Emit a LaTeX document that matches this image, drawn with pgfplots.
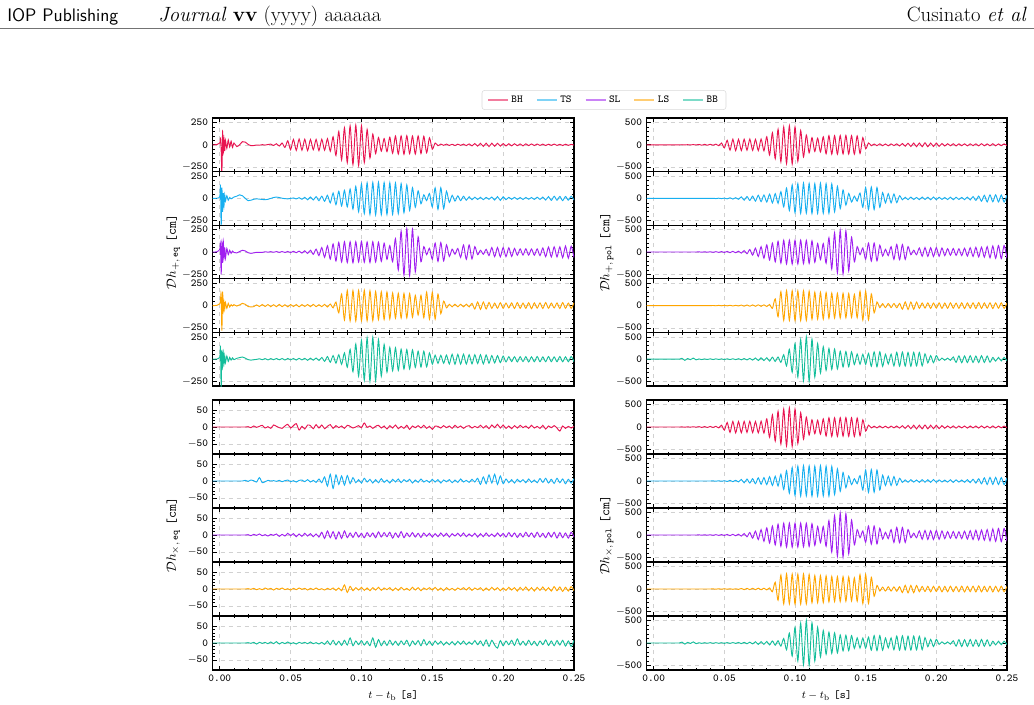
\documentclass[border=0pt]{standalone}
\usepackage{pgfplots}
\pgfplotsset{compat=1.18}
\usepackage{pgfplotstable}
\definecolor{bh}{RGB}{232,20,80}
\definecolor{ts}{RGB}{22,175,240}
\definecolor{sl}{RGB}{160,30,240}
\definecolor{ls}{RGB}{255,165,0}
\definecolor{bb}{RGB}{20,190,155}

\pgfplotstableread{
t a1 a2 a3 a4 a5 b1 b2 b3 b4 b5 c1 c2 c3 c4 c5
-0.005 0 0 0 0 0 0 0 0 0 0 0 0 0 0 0
-0.002 3 2 2 3 2 0 0 0 0 0 0 0 0 0 0
0.0000 20 20 30 20 25 0 0 0 0 0 0 0 0 0 0
0.0005 70 150 90 60 140 0 0 0 0 0 0 0 0 0 0
0.0010 -60 -320 -250 130 -320 0 0 0 0 0 0 0 0 0 0
0.0015 -320 120 100 -280 90 0 0 0 0 0 0 0 0 0 0
0.0020 150 -150 -120 150 -80 0 0 0 0 0 0 0 0 0 0
0.0025 -90 60 120 -60 70 0 0 0 0 0 0 0 0 0 0
0.0030 60 -80 -60 40 -50 0 0 0 0 0 0 0 0 0 0
0.0035 -70 40 50 -40 40 0 0 0 0 0 0 0 0 0 0
0.0040 50 -30 -70 35 -40 0 0 0 0 0 0 0 0 0 0
0.0050 -40 30 40 -30 35 0 0 0 0 0 0 0 0 0 0
0.0060 55 -20 -30 25 -25 0 0 0 0 0 0 0 0 0 0
0.0070 -25 10 20 -15 20 0 0 0 0 0 0 0 0 0 0
0.0080 40 -5 -15 10 -10 0 0 0 0 0 0 0 0 0 0
0.0090 -30 5 10 -5 15 0 0 0 0 0 0 0 0 0 0
0.0100 20 15 -5 10 -5 0 0 0 0 0 0 0 0 0 0
0.012 -20 25 -10 -5 10 0 0 0 0 0 0 0 0 0 0
0.014 0 40 5 8 18 0 0 0 0 0 0 0 0 0 0
0.016 35 30 20 25 25 0 0 0 0 0 0 0 0 0 0
0.018 30 0 12 15 12 0 0 0 0 0 0 2 0 0 0
0.020 5 -25 -8 -10 -5 2 0 0 0 20 1 -1 1 1 1
0.022 -10 -20 -15 -15 -10 -3 0 0 0 -25 -2 3 -2 -1 -1
0.024 -8 -10 -10 -12 -6 3 0 0 0 15 3 1 2 2 2
0.026 -2 -5 -3 8 -2 -2 0 0 0 -10 -1 -3 -1 -2 -3
0.028 -5 -8 -5 -10 5 4 0 0 0 25 2 10 3 1 2
0.030 2 -12 -4 12 -6 -3 0 0 0 -15 5 -5 -2 -2 -1
0.032 -3 -15 3 -10 7 8 0 3 0 6 -3 -2 1 3 2
0.034 3 -10 -2 12 -8 -9 0 -4 0 -8 1 2 -3 -1 -2
0.036 8 0 4 -12 7 10 0 5 0 7 -4 0 2 2 3
0.038 -8 10 -3 10 -6 -10 0 -5 0 -6 6 1 -1 -3 -2
0.040 12 15 5 -12 8 12 0 6 0 8 2 -1 3 2 4
0.042 -14 10 -4 14 -7 -10 3 -7 3 -7 -2 2 -4 -1 -3
0.044 20 2 5 -12 8 15 -4 8 -4 8 -4 -2 2 3 2
0.046 -30 -3 -5 10 -9 -20 5 -8 5 -6 3 1 -3 -2 -2
0.048 45 -5 6 -14 8 40 -5 9 -4 7 8 3 5 1 3
0.050 -55 0 -7 12 -7 -70 6 -10 6 -8 -3 -2 -2 -3 -2
0.052 60 5 8 -10 8 100 -10 12 -5 9 4 1 4 2 1
0.054 -62 -6 -8 12 -9 -120 14 -14 6 -8 10 -3 -5 -2 -3
0.056 65 8 10 -14 10 125 -15 15 -7 10 -9 2 3 3 2
0.058 -60 -10 -12 12 -8 -130 16 -16 6 -9 2 3 -4 -1 -1
0.060 62 12 14 -10 10 122 -20 18 -8 12 -6 -2 5 2 2
0.062 -65 -15 -16 12 -12 -128 35 -25 12 -14 6 4 -3 -3 -2
0.064 60 16 20 -12 12 125 -40 32 -14 15 4 -3 4 2 3
0.066 -55 -18 -26 14 -11 -120 42 -40 15 -16 -5 2 -5 -2 -2
0.068 60 20 32 -12 13 128 -45 55 -14 18 7 -4 3 3 1
0.070 -65 -25 -40 10 -14 -125 50 -70 16 -20 -3 6 -6 -2 -3
0.072 62 25 50 -12 20 122 -60 85 -15 28 6 -5 8 1 2
0.074 -60 -32 -60 14 -24 -130 70 -100 18 -30 -5 12 -10 -3 -4
0.076 68 35 70 -16 30 128 -72 120 -16 32 2 -15 12 2 6
0.078 -72 -50 -80 18 -34 -135 75 -140 18 -30 7 20 -8 -2 -5
0.080 90 60 90 -25 40 180 -80 160 -20 35 -4 -22 10 3 8
0.082 -120 -70 -100 40 -44 -230 95 -180 25 -42 4 18 -12 -4 -6
0.084 150 80 108 -80 50 270 -100 200 -60 45 -2 -10 9 3 5
0.086 -170 -85 -112 130 -58 -310 105 -220 150 -48 3 15 -10 -5 -7
0.088 190 90 115 -160 70 350 -110 240 -250 50 -4 -12 12 12 8
0.090 -200 -95 -118 170 -90 -380 150 -250 310 -70 5 16 -8 -10 -6
0.092 212 105 115 -172 110 400 -190 262 -330 100 2 -8 6 8 15
0.094 -222 -120 -120 168 -140 -420 230 -268 335 -150 -3 10 -7 -5 -8
0.096 220 135 116 -172 170 425 -270 265 -330 220 0 -5 8 4 6
0.098 -232 -150 -112 170 -190 -430 300 -270 332 -290 4 4 -6 -3 -5
0.100 212 162 118 -168 210 400 -320 262 -335 350 -2 -6 5 5 7
0.102 -198 -170 -115 172 -235 -370 330 -268 330 -400 12 8 -8 -4 -6
0.104 172 175 112 -170 240 320 -335 265 -335 440 -1 -3 7 3 5
0.106 -148 -180 -118 166 -248 -270 340 -260 332 -480 3 5 -5 -5 -8
0.108 120 178 115 -168 245 220 -330 262 -330 500 -4 -6 6 4 15
0.110 -98 -185 -112 158 -240 -180 335 -255 325 -495 2 4 -8 -3 -12
0.112 82 180 110 -156 220 160 -338 250 -305 450 5 -5 9 5 10
0.114 -72 -182 -105 155 -190 -150 330 -230 300 -400 -3 7 -6 -4 -8
0.116 70 178 98 -154 165 150 -335 190 -302 350 3 -4 7 3 6
0.118 -76 -180 -82 152 -145 -160 340 -170 298 -310 -6 3 -5 -2 -7
0.120 85 176 72 -150 132 180 -332 190 -300 280 4 -6 8 4 8
0.122 -95 -178 -110 142 -130 -200 330 -250 292 -250 -3 5 -9 -5 -6
0.124 98 172 150 -140 128 205 -335 320 -285 240 6 -3 6 3 5
0.126 -104 -170 -200 138 -125 -210 325 -380 280 -230 -5 6 -7 -4 -7
0.128 100 165 235 -140 112 205 -300 430 -278 225 2 -5 10 5 6
0.130 -106 -160 -258 136 -110 -210 270 -470 275 -220 -4 4 -8 -3 -5
0.132 102 150 262 -138 108 208 -230 485 -280 180 5 -2 6 2 8
0.134 -100 -135 -265 135 -110 -205 190 -490 276 -175 -7 5 -5 -4 -9
0.136 98 120 255 -130 105 210 -150 475 -272 172 3 -6 7 5 6
0.138 -104 -100 -222 115 -92 -208 110 -420 270 -170 -2 3 -6 -3 -5
0.140 100 85 170 -105 90 205 -80 330 -265 165 4 -4 5 4 7
0.142 -98 -60 -110 115 -88 -210 50 -220 250 -120 -3 6 -7 -5 -8
0.144 95 40 60 -135 90 200 -60 120 -272 115 5 -3 6 3 10
0.146 -90 -25 -30 150 -86 -195 120 -60 320 -112 -4 2 -4 -2 -6
0.148 78 55 42 -152 70 160 -200 90 -325 110 2 -4 5 4 5
0.150 -50 -95 -80 148 -55 -90 245 -160 322 -115 -7 5 -6 -3 -7
0.152 20 118 100 -150 45 40 -250 200 -318 130 3 -3 4 5 6
0.154 -10 -122 -105 128 -46 -20 255 -205 260 -160 2 4 -5 -4 -4
0.156 8 120 106 -90 44 18 -250 200 -160 165 -3 -6 6 3 5
0.158 -6 -115 -100 50 -45 -20 245 -198 80 -168 4 3 -4 -5 -6
0.160 8 80 80 -25 46 22 -200 150 -45 165 -2 -2 5 4 3
0.162 -7 -45 -50 15 -54 -20 130 -90 42 -160 3 4 -6 -3 -5
0.164 6 35 32 -14 55 18 -100 60 -45 110 -4 -5 4 2 4
0.166 -8 -30 -25 16 -56 -22 105 -80 48 -108 5 3 -3 -4 -6
0.168 7 28 40 -14 54 20 -100 120 -44 112 -2 -4 5 3 5
0.170 -6 -25 -60 15 -55 -18 98 -165 46 -150 3 6 -4 -2 -4
0.172 8 24 78 -14 56 22 -95 170 -48 155 -4 -3 6 4 6
0.174 -9 -20 -82 16 -54 -25 60 -172 50 -158 2 2 -5 -3 -5
0.176 10 18 80 -15 50 28 -30 168 -80 160 4 -4 3 5 3
0.178 -12 -15 -78 25 -52 -30 25 -165 82 -155 -3 5 -4 -4 -4
0.180 14 14 60 -38 50 35 -28 120 -85 152 2 -3 5 3 7
0.182 -15 -12 -30 40 -48 -38 30 -60 80 -158 -2 8 -6 -2 -5
0.184 16 12 20 -42 50 40 -25 40 -82 155 5 -10 4 4 6
0.186 -18 -14 -25 40 -52 -42 22 -60 78 -150 -3 12 -5 -5 -8
0.188 18 12 30 -38 48 40 -28 90 -60 152 4 -8 6 3 9
0.190 -20 -10 -40 35 -45 -42 30 -95 58 -148 -5 18 -4 -4 -10
0.192 18 15 50 -30 40 45 -25 100 -55 120 6 -6 3 5 8
0.194 -16 -18 -52 28 -42 -42 28 -98 60 -82 -2 20 -5 -3 -6
0.196 18 20 50 -30 40 40 -30 96 -62 80 8 -10 6 4 -15
0.198 -15 -22 -54 32 -38 -38 32 -100 58 -78 -3 15 -4 -5 7
0.200 14 18 50 -30 35 40 -28 98 -55 80 6 -8 5 3 -8
0.202 -13 -14 -52 28 -30 -35 25 -95 60 -30 -4 6 -6 -4 6
0.204 12 12 48 -26 28 30 -22 90 -62 25 3 -5 7 5 -5
0.206 -12 -10 -50 30 -26 -26 20 -80 58 -22 -5 4 -5 -3 8
0.208 12 12 40 -32 28 24 -25 75 -60 24 4 -6 6 4 -7
0.210 -10 -11 -36 34 -30 -22 28 -72 62 -25 -3 5 -7 -6 12
0.212 10 10 35 -30 28 24 -30 78 -58 50 5 -3 5 5 -6
0.214 -12 -12 -34 28 -26 -25 26 -75 55 -70 -2 4 -6 -4 5
0.216 11 11 36 -30 28 22 -24 72 -60 75 3 -5 8 6 -7
0.218 -9 -9 -35 32 -30 -20 22 -80 62 -78 -4 6 -5 -5 8
0.220 10 10 34 -34 26 22 -28 85 -65 72 5 -4 6 4 -6
0.222 -8 -12 -36 30 -28 -24 30 -90 60 -75 -3 3 -7 -6 5
0.224 9 14 35 -28 30 22 -35 95 -58 78 2 -5 8 5 -8
0.226 -7 -12 -40 30 -28 -20 40 -100 62 -72 -4 7 -6 -4 6
0.228 8 15 45 -32 26 22 -45 105 -65 70 5 -4 5 6 -5
0.230 -8 -18 -52 34 -28 -24 50 -110 68 -75 -6 8 -8 -5 9
0.232 7 20 55 -30 30 25 -62 108 -62 78 3 -6 7 4 -7
0.234 -6 -22 -56 28 -28 -22 70 -115 60 -72 -2 5 -6 -6 6
0.236 8 24 58 -26 26 20 -78 120 -58 70 4 -7 8 7 -8
0.238 -7 -20 -55 30 -28 -22 80 -130 62 -68 -3 8 -9 -5 7
0.240 6 22 58 -32 30 24 -75 135 -65 40 -12 -5 7 6 -6
0.242 -8 -25 -64 34 -28 -22 80 -140 60 -42 3 6 -8 -7 8
0.244 7 22 66 -30 26 20 -78 145 -58 40 -4 -8 6 5 -9
0.246 -6 -20 -68 28 -28 -18 75 -148 62 -38 2 5 -9 -6 6
0.248 5 24 65 -30 30 20 -80 145 -60 40 -3 -6 8 7 -10
0.250 -4 -18 -62 32 -28 -18 70 -140 58 -38 2 7 -6 -5 8
}\wdata

\pgfplotsset{
  panelbase/.style={
    scale only axis,
    xmin=-0.005, xmax=0.25,
    xtick={0,0.05,0.1,0.15,0.2,0.25},
    minor x tick num=4,
    minor y tick num=4,
    tick align=inside,
    major tick length=3pt, minor tick length=1.6pt,
    tick style={black, line width=0.5pt},
    axis line style={line width=0.9pt},
    grid=major,
    major grid style={dashed, black!18, line width=0.4pt},
    xticklabels={},
    tick label style={font=\ttfamily\fontsize{8}{9}\selectfont},
    every axis plot/.append style={line width=0.7pt, smooth, tension=0.45},
    label style={font=\fontsize{8.5}{10}\selectfont},
  },
  lcol/.style={panelbase, width=271pt,
    every axis y label/.style={at={(axis description cs:-0.109,0.5)}, rotate=90, anchor=center}},
  rcol/.style={panelbase, width=270.2pt,
    every axis y label/.style={at={(axis description cs:-0.111,0.5)}, rotate=90, anchor=center}},
  topblk/.style={height=40.2pt},
  botblk/.style={height=40.5pt},
  ya/.style={ymin=-300, ymax=300, ytick={-250,0,250}, yticklabels={$-$250,0,250}},
  yb/.style={ymin=-600, ymax=600, ytick={-500,0,500}, yticklabels={$-$500,0,500}},
  yc/.style={ymin=-80, ymax=80, ytick={-50,0,50}, yticklabels={$-$50,0,50}},
  xlab/.style={xticklabels={0.00,0.05,0.10,0.15,0.20,0.25},
    xlabel={$t-t_{\mathrm{b}}$\ \texttt{[s]}}},
}

\newcommand{\pan}[5]{%
  \begin{axis}[#1, at={(#2,#3)}, anchor=north west]
    \addplot[#4] table[x=t,y=#5]{\wdata};
  \end{axis}}

\begin{document}
\begin{tikzpicture}
\path[use as bounding box] (0pt,0pt) rectangle (775.5pt,-528pt);
% header
\node[anchor=base west, inner sep=0pt] at (5.25pt,-15.75pt) {\fontsize{13.6}{16}\selectfont\sffamily IOP Publishing};
\node[anchor=base west, inner sep=0pt] at (118.5pt,-15.75pt) {\fontsize{15.5}{18}\selectfont\textit{Journal} \textbf{vv} (yyyy) aaaaaa};
\node[anchor=base east, inner sep=0pt] at (770.25pt,-15.75pt) {\fontsize{15.5}{18}\selectfont Cusinato \textit{et al}};
\draw[black!55, line width=0.5pt] (0pt,-21pt) -- (775.5pt,-21pt);

% top-left block (h+ eq)
\begin{axis}[lcol, topblk, ya, at={(159.5pt,-88.5pt)}, anchor=north west,
  legend columns=5,
  legend style={at={(axis description cs:1.083,1.336)}, anchor=center,
    draw=black!15, rounded corners=2pt, fill=white,
    font=\ttfamily\fontsize{8}{9}\selectfont,
    /tikz/every even column/.append style={column sep=8pt},
    inner xsep=4pt, inner ysep=2pt},
  legend image code/.code={\draw[#1, line width=1.1pt, opacity=0.55] (0pt,0pt) -- (15pt,0pt);}]
  \addplot[bh, forget plot] table[x=t,y=a1]{\wdata};
  \addlegendimage{bh}
  \addlegendimage{ts}
  \addlegendimage{sl}
  \addlegendimage{ls}
  \addlegendimage{bb}
  \legend{BH,TS,SL,LS,BB}
\end{axis}
\pan{lcol,topblk,ya}{159.5pt}{-128.7pt}{ts}{a2}
\pan{lcol,topblk,ya,ylabel={$\mathcal{D}h_{+,\,\mathtt{eq}}$\ \texttt{[cm]}}}{159.5pt}{-168.9pt}{sl}{a3}
\pan{lcol,topblk,ya}{159.5pt}{-209.1pt}{ls}{a4}
\pan{lcol,topblk,ya}{159.5pt}{-249.3pt}{bb}{a5}

% top-right block (h+ pol)
\pan{rcol,topblk,yb}{485pt}{-88.5pt}{bh}{b1}
\pan{rcol,topblk,yb}{485pt}{-128.7pt}{ts}{b2}
\pan{rcol,topblk,yb,ylabel={$\mathcal{D}h_{+,\,\mathtt{pol}}$\ \texttt{[cm]}}}{485pt}{-168.9pt}{sl}{b3}
\pan{rcol,topblk,yb}{485pt}{-209.1pt}{ls}{b4}
\pan{rcol,topblk,yb}{485pt}{-249.3pt}{bb}{b5}

% bottom-left block (hx eq)
\pan{lcol,botblk,yc}{159.5pt}{-300pt}{bh}{c1}
\pan{lcol,botblk,yc}{159.5pt}{-340.5pt}{ts}{c2}
\pan{lcol,botblk,yc,ylabel={$\mathcal{D}h_{\times,\,\mathtt{eq}}$\ \texttt{[cm]}}}{159.5pt}{-381pt}{sl}{c3}
\pan{lcol,botblk,yc}{159.5pt}{-421.5pt}{ls}{c4}
\pan{lcol,botblk,yc,xlab}{159.5pt}{-462pt}{bb}{c5}

% bottom-right block (hx pol)
\pan{rcol,botblk,yb}{485pt}{-300pt}{bh}{b1}
\pan{rcol,botblk,yb}{485pt}{-340.5pt}{ts}{b2}
\pan{rcol,botblk,yb,ylabel={$\mathcal{D}h_{\times,\,\mathtt{pol}}$\ \texttt{[cm]}}}{485pt}{-381pt}{sl}{b3}
\pan{rcol,botblk,yb}{485pt}{-421.5pt}{ls}{b4}
\pan{rcol,botblk,yb,xlab}{485pt}{-462pt}{bb}{b5}
\end{tikzpicture}
\end{document}
